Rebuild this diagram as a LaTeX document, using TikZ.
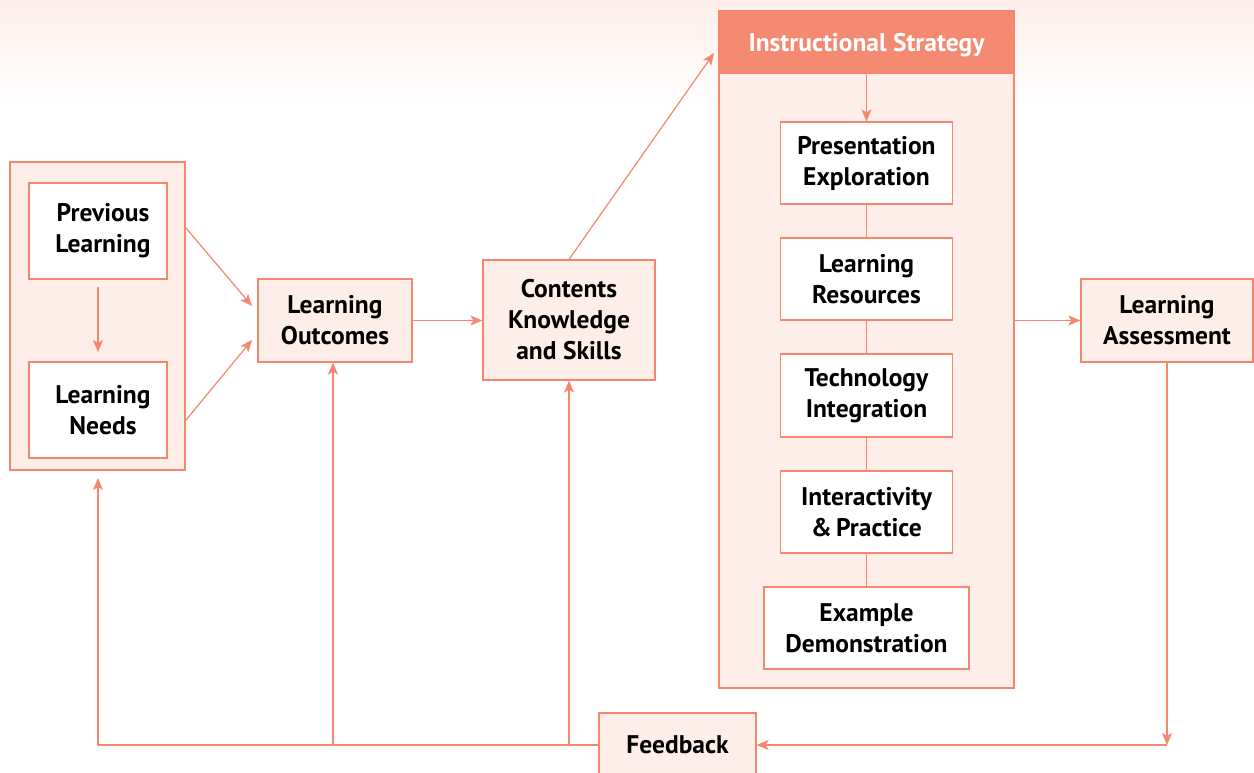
\documentclass[tikz,border=0pt]{standalone}
\usepackage{fontspec}
\setmainfont{PT Sans}
\usetikzlibrary{arrows.meta}
\definecolor{salmon}{HTML}{F4876E}
\definecolor{blush}{HTML}{FDEEEA}
\definecolor{headfill}{HTML}{F48A72}
\begin{document}
\begin{tikzpicture}[x=1pt,y=-1pt,
  box/.style={draw=salmon,line width=1.2pt,fill=white,align=center,
    font=\fontsize{25.5}{31}\selectfont\bfseries,inner sep=0pt},
  pbox/.style={box,fill=blush},
  conn/.style={draw=salmon,line width=1.2pt},
  arr/.style={conn,-{Stealth[length=12pt,width=10pt,inset=3pt]}}]
% page and soft top band
\useasboundingbox (0,0) rectangle (1254,773);
\fill[white] (0,0) rectangle (1254,773);
\shade[top color=blush,bottom color=white] (0,0) rectangle (1254,105);

% left group
\node[pbox,minimum width=175pt,minimum height=308pt] (grp) at (97.5,316) {};
\node[box,minimum width=138pt,minimum height=96pt] (prev) at (98,231) {\hspace*{10pt}Previous\\\hspace*{10pt}Learning};
\node[box,minimum width=138pt,minimum height=96pt] (needs) at (98,410) {\hspace*{10pt}Learning\\\hspace*{10pt}Needs};

\node[pbox,minimum width=154pt,minimum height=83pt] (lo) at (335,320.5) {Learning\\Outcomes};
\node[pbox,minimum width=172pt,minimum height=120pt] (cks) at (569,320) {Contents\\Knowledge\\and Skills};

% instructional strategy column
\node[pbox,minimum width=295pt,minimum height=677pt] (is) at (866.5,349.5) {};
\node[draw=salmon,line width=1.2pt,fill=headfill,minimum width=295pt,minimum height=62pt,
  text=white,font=\fontsize{25.5}{31}\selectfont\bfseries,inner sep=0pt] (ish) at (866.5,42) {};
\node[text=white,font=\fontsize{25.5}{31}\selectfont\bfseries,inner sep=0pt] (isht) at (866.5,45) {Instructional Strategy};
\node[box,minimum width=172pt,minimum height=82pt] (pe) at (866.5,163) {Presentation\\Exploration};
\node[box,minimum width=172pt,minimum height=82pt] (lr) at (866.5,279) {Learning\\Resources};
\node[box,minimum width=172pt,minimum height=83pt] (ti) at (866.5,395.5) {Technology\\Integration};
\node[box,minimum width=172pt,minimum height=82pt] (ip) at (866.5,512) {Interactivity\\\&\,Practice};
\node[box,minimum width=205pt,minimum height=82pt] (ed) at (866.5,628) {Example\\Demonstration};

\node[pbox,minimum width=172pt,minimum height=83pt] (la) at (1167,320.5) {Learning\\Assessment};
\node[pbox,minimum width=157pt,minimum height=64pt] (fb) at (677.5,745) {Feedback};

% helper points
\coordinate (fbR) at (1167,745);
\coordinate (cL) at (98,745);
\coordinate (cO) at (333,745);
\coordinate (cC) at (569,745);

% connectors
\draw[arr] (98,287) -- (98,352);
\draw[arr] (186,228) -- (252,306);
\draw[arr] (186,420) -- (252,340);
\draw[arr] (lo.east) -- (lo.east -| cks.west);
\draw[arr] (cks.north) -- (714,53);
\draw[arr] (ish.south) -- (ish.south |- pe.north);
\draw[conn] (pe.south) -- (lr.north);
\draw[conn] (lr.south) -- (ti.north);
\draw[conn] (ti.south) -- (ip.north);
\draw[conn] (ip.south) -- (ed.north);
\draw[arr] (is.east |- la.west) -- (la.west);
\draw[arr] (la.south) -- (fbR);
\draw[arr] (fbR) -- (fb.east);
\draw[conn] (fb.west) -- (cL);
\draw[arr] (cL) -- (98,478);
\draw[arr] (cO) -- (lo.south -| cO);
\draw[arr] (cC) -- (cks.south -| cC);
\end{tikzpicture}
\end{document}
